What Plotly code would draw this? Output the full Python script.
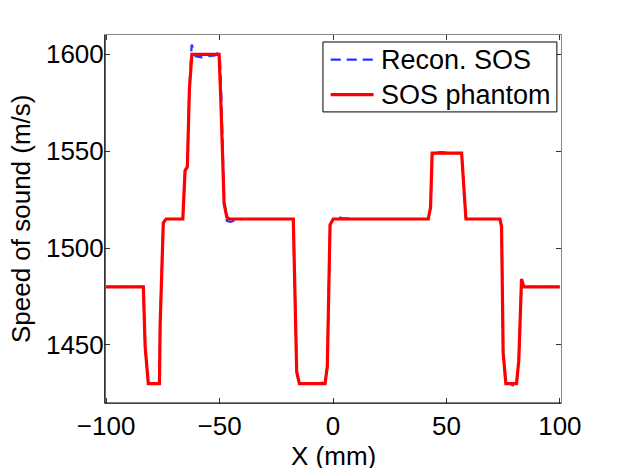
import plotly.graph_objects as go

# SOS phantom profile (m/s) vs X (mm)
phantom_x = [-100, -83.6, -82.8, -81.4, -76.5, -76.2, -74.8, -73.6, -66.2, -65.2, -64.2,
             -63.3, -62.2, -50.2, -49.5, -48.0, -46.8, -45.8, -17.5, -16.0, -14.8, -3.5,
             -2.5, -1.3, 0.1, 42.0, 43.0, 43.7, 56.7, 57.4, 58.6, 73.6, 74.3, 75.0, 76.2,
             80.9, 81.9, 83.1, 84.1, 100]
phantom_y = [1480, 1480, 1449, 1430, 1430, 1460, 1513, 1515, 1515, 1540, 1542,
             1582, 1600, 1600, 1578, 1523, 1516, 1515, 1515, 1436, 1430, 1430,
             1439, 1512, 1515, 1515, 1521, 1549, 1549, 1534, 1515, 1515, 1511, 1446, 1430,
             1430, 1442, 1484, 1480, 1480]

# Reconstructed SOS profile
recon_x = [-100, -90, -84, -83.6, -82.8, -81.4, -79, -76.5, -76.2, -74.8, -73.6, -70,
           -66.2, -65.2, -64.2, -63.3, -62.3, -61.6, -60.6, -58, -55, -52, -51, -50.3,
           -49.8, -49.4, -48.0, -46.8, -45.3, -44, -40, -30, -20, -17.5, -16.0, -14.8,
           -10, -5, -3.5, -2.5, -1.3, 0.1, 2, 4, 10, 20, 30, 42.0, 43.0, 43.7, 48, 52,
           56.7, 57.4, 58.6, 65, 73.6, 74.3, 75.0, 76.2, 78, 79.4, 80.9, 81.9, 83.1,
           84.1, 90, 100]
recon_y = [1480, 1480, 1480, 1480, 1449, 1430, 1430, 1430, 1460, 1513, 1515, 1515,
           1515, 1540, 1542, 1582, 1605, 1603, 1599, 1598.5, 1599, 1599.5, 1600.5, 1599,
           1597, 1585, 1526, 1514, 1513.5, 1514, 1515, 1515, 1515, 1515, 1436, 1430,
           1430, 1430.5, 1430, 1439, 1512, 1515, 1516, 1515.5, 1515, 1515, 1515, 1515,
           1521, 1549, 1549.5, 1549, 1549, 1534, 1515, 1515, 1515, 1511, 1446, 1430,
           1430, 1429, 1430, 1442, 1483, 1480, 1480, 1480]

x_ticks = [-100, -50, 0, 50, 100]
y_ticks = [1450, 1500, 1550, 1600]
x_title = "X (mm)"
y_title = "Speed of sound (m/s)"
series_names = ["Recon. SOS", "SOS phantom"]

FONT = "Liberation Sans, Arial, Helvetica, sans-serif"
BLUE = "#2433ff"
RED = "#ff0000"
BLUE_DASH = "10px,6px"

fig = go.Figure()
fig.add_trace(go.Scatter(x=recon_x, y=recon_y, mode="lines", name=series_names[0],
                         line=dict(color=BLUE, width=2.2, dash=BLUE_DASH)))
fig.add_trace(go.Scatter(x=phantom_x, y=phantom_y, mode="lines", name=series_names[1],
                         line=dict(color=RED, width=3.2)))

axis_common = dict(showgrid=False, zeroline=False, showline=True, linecolor="#888888",
                   linewidth=1, mirror="ticks", ticks="inside", ticklen=5, tickcolor="#333333",
                   automargin=False,
                   tickfont=dict(family=FONT, size=26, color="black"))

fig.update_xaxes(range=[-100.5, 100.5], tickvals=x_ticks, **axis_common)
fig.update_yaxes(range=[1420, 1610], tickvals=y_ticks, ticklabelstandoff=-5, **axis_common)

# black left and bottom spines
fig.add_shape(type="line", xref="paper", yref="paper", x0=0, x1=0, y0=0, y1=1,
              line=dict(color="black", width=1.2))
fig.add_shape(type="line", xref="paper", yref="paper", x0=0, x1=1, y0=0, y1=0,
              line=dict(color="black", width=1.2))

# axis titles
fig.add_annotation(text=x_title, xref="paper", yref="paper", x=0.5, y=-0.143,
                   xanchor="center", yanchor="middle", showarrow=False,
                   font=dict(family=FONT, size=26, color="black"))
fig.add_annotation(text=y_title, xref="paper", yref="paper", x=-0.184, y=0.5,
                   xanchor="center", yanchor="middle", showarrow=False, textangle=-90,
                   font=dict(family=FONT, size=26, color="black"))

# legend box (MATLAB style), drawn in paper coordinates
lx0, lx1, ly0, ly1 = 0.478, 0.991, 0.791, 0.981
fig.add_shape(type="rect", xref="paper", yref="paper", x0=lx0, x1=lx1, y0=ly0, y1=ly1,
              line=dict(color="black", width=1), fillcolor="white", layer="above")
row_y = [0.933, 0.838]
styles = [dict(color=BLUE, width=2.2, dash=BLUE_DASH), dict(color=RED, width=3.2)]
for name, ry, st in zip(series_names, row_y, styles):
    fig.add_shape(type="line", xref="paper", yref="paper", x0=0.495, x1=0.589, y0=ry, y1=ry,
                  line=st, layer="above")
    fig.add_annotation(text=name, xref="paper", yref="paper", x=0.600, y=ry,
                       xanchor="left", yanchor="middle", showarrow=False,
                       font=dict(family=FONT, size=27, color="black"))

# the page body has an 8px margin, so the figure is shifted by 8px
fig.update_layout(
    width=614, height=460,
    margin=dict(l=97, r=61, t=27, b=65, autoexpand=False),
    plot_bgcolor="white", paper_bgcolor="white",
    font=dict(family=FONT, size=26, color="black"),
    showlegend=False,
)

fig.write_html("out.html")
